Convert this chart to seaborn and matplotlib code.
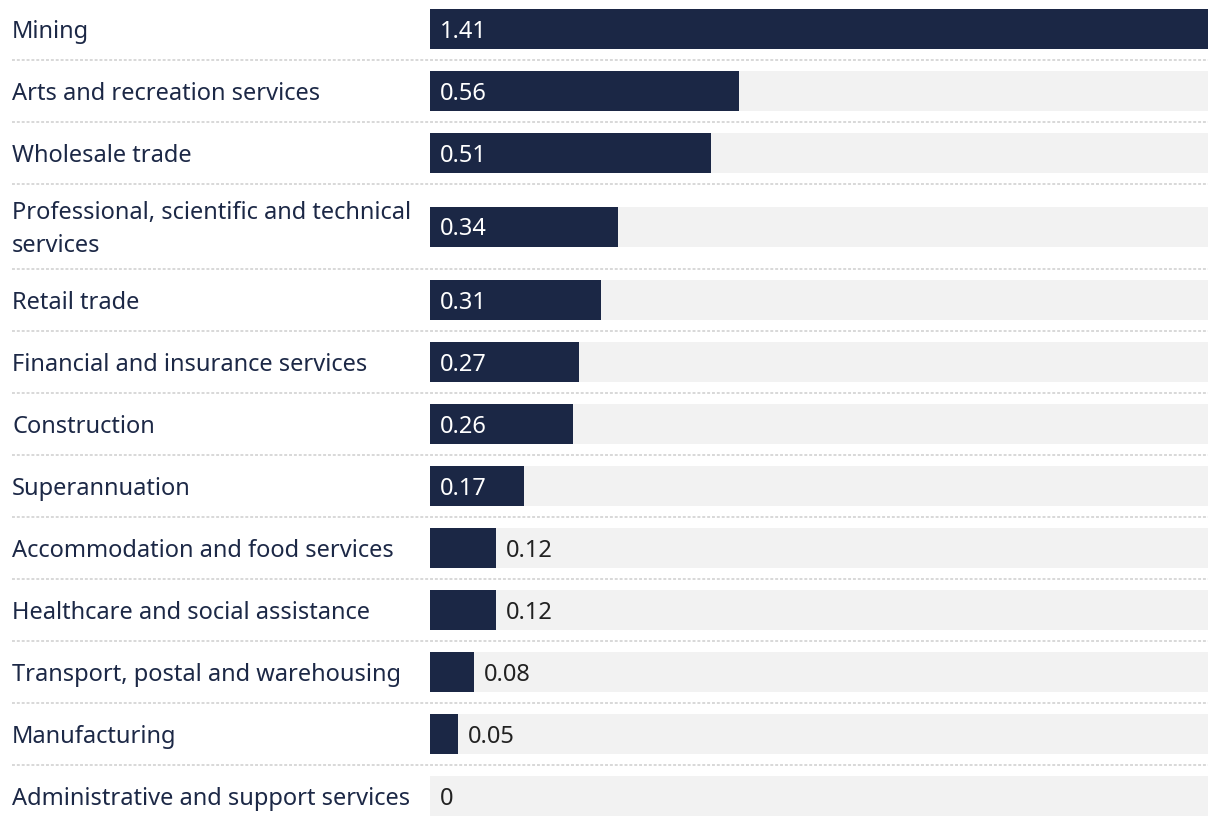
import numpy as np
import pandas as pd
import seaborn as sns
import matplotlib.pyplot as plt
import matplotlib.transforms as mtrans

# Data
industries = [
    "Mining",
    "Arts and recreation services",
    "Wholesale trade",
    "Professional, scientific and technical\nservices",
    "Retail trade",
    "Financial and insurance services",
    "Construction",
    "Superannuation",
    "Accommodation and food services",
    "Healthcare and social assistance",
    "Transport, postal and warehousing",
    "Manufacturing",
    "Administrative and support services",
]
values = [1.41, 0.56, 0.51, 0.34, 0.31, 0.27, 0.26, 0.17, 0.12, 0.12, 0.08, 0.05, 0.0]
value_labels = ["1.41", "0.56", "0.51", "0.34", "0.31", "0.27", "0.26", "0.17",
                "0.12", "0.12", "0.08", "0.05", "0"]

NAVY = "#1b2745"
BG = "#f2f2f2"
TXT = "#1c2846"

# row layout in pixels (two-line label gets a taller row)
W, H = 1220, 828
row_h = [85 if "\n" in s else 62 for s in industries]
tops = np.concatenate([[-1], -1 + np.cumsum(row_h)[:-1]])
centers = tops + np.array(row_h) / 2

df = pd.DataFrame({"industry": industries, "value": values, "pos": centers,
                   "full": max(values)})

sns.set_style("white")
plt.rcParams["font.family"] = ["Noto Sans", "DejaVu Sans"]

fig = plt.figure(figsize=(W / 100, H / 100), dpi=100)
x0, x1 = 430, 1208
ax = fig.add_axes([x0 / W, 0, (x1 - x0) / W, 1])

bw = 40 / 62
sns.barplot(data=df, x="full", y="pos", orient="h", native_scale=True,
            color=BG, saturation=1, width=bw, linewidth=0, ax=ax)
sns.barplot(data=df, x="value", y="pos", orient="h", native_scale=True,
            color=NAVY, saturation=1, width=bw, linewidth=0, ax=ax)

ax.set_xlim(0, max(values))
ax.set_ylim(H, 0)
ax.axis("off")

px = (x1 - x0) / max(values)  # pixels per unit
FS = 17
label_tr = mtrans.blended_transform_factory(fig.transFigure, ax.transData)
for name, v, lab, c in zip(industries, values, value_labels, centers):
    ax.text(12 / W, c + 2, name, transform=label_tr, ha="left", va="center",
            fontsize=FS, color=TXT, linespacing=1.45)
    if v * px > 70:
        ax.text(10 / px, c + 2, lab, ha="left", va="center", fontsize=FS, color="white")
    else:
        ax.text(v + 10 / px, c + 2, lab, ha="left", va="center", fontsize=FS, color="#222222")

# dotted separators between rows
for b in tops[1:]:
    ax.plot([12 / W, x1 / W], [b, b], transform=label_tr, color="#d8d8d8",
            lw=1.4, dashes=(1.5, 1), clip_on=False)

plt.savefig("out.png", dpi=100)
